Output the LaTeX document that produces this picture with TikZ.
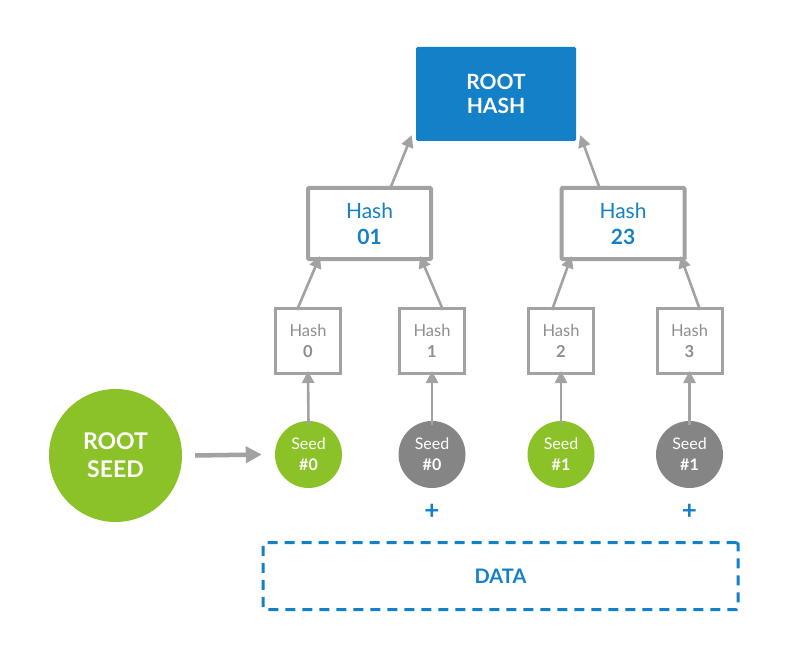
\documentclass[tikz,border=0pt]{standalone}
\usepackage{fontspec}
\setmainfont{Lato}
\usetikzlibrary{arrows.meta}
\definecolor{mblue}{HTML}{1380C8}
\definecolor{mgreen}{HTML}{8BC227}
\definecolor{mgrayc}{HTML}{858585}
\definecolor{mgrayb}{HTML}{A2A2A2}
\definecolor{mgrayt}{HTML}{8E8E8E}
\tikzset{
  rootbox/.style={fill=mblue, rounded corners=1.5pt, minimum width=160pt, minimum height=94pt, inner sep=0pt, text=white, font=\fontsize{21}{24}\selectfont\bfseries, align=center},
  midbox/.style={draw=mgrayb, line width=4pt, rounded corners=1pt, minimum width=123pt, minimum height=71pt, inner sep=0pt, text=mblue, align=center, font=\fontsize{21}{26}\selectfont},
  smallbox/.style={draw=mgrayb, line width=3pt, minimum width=65pt, minimum height=65pt, inner sep=0pt, text=mgrayt, align=center, font=\fontsize{16.5}{21}\selectfont},
  seedc/.style={circle, minimum size=67pt, inner sep=0pt, text=white, align=center, font=\fontsize{16}{21}\selectfont},
  arr/.style={draw=mgrayb, line width=2.6pt, -{Triangle[length=12pt,width=12pt]}},
  plus/.style={text=mblue, font=\fontsize{26}{26}\selectfont\bfseries, inner sep=0pt},
}
\begin{document}
\begin{tikzpicture}[x=1pt,y=-1pt]
\useasboundingbox (0,0) rectangle (810,668);
% root hash
\node[rootbox] (root) at (496,94) {ROOT\\HASH};
% mid boxes
\node[midbox] (h01) at (369.5,223.5) {Hash\\\bfseries 01};
\node[midbox] (h23) at (623,223.5) {Hash\\\bfseries 23};
% small boxes
\node[smallbox] (h0) at (308,341) {Hash\\\bfseries 0};
\node[smallbox] (h1) at (432,341) {Hash\\\bfseries 1};
\node[smallbox] (h2) at (561,341) {Hash\\\bfseries 2};
\node[smallbox] (h3) at (689.5,341) {Hash\\\bfseries 3};
% seeds
\node[seedc, fill=mgreen] (s0) at (308.5,454.5) {Seed\\\bfseries\#0};
\node[seedc, fill=mgrayc] (s1) at (432,454.5) {Seed\\\bfseries\#0};
\node[seedc, fill=mgreen] (s2) at (561,454.5) {Seed\\\bfseries\#1};
\node[seedc, fill=mgrayc] (s3) at (689.5,454.5) {Seed\\\bfseries\#1};
% root seed
\node[circle, fill=mgreen, minimum size=133pt, inner sep=0pt, text=white, align=center, font=\fontsize{23}{28}\selectfont\bfseries] (rs) at (115.5,455.5) {ROOT\\SEED};
% plus signs
\node[plus] (p1) at (432,512) {+};
\node[plus] (p2) at (689.5,512) {+};
% data
\node[draw=mblue, line width=3pt, dash pattern=on 10pt off 7pt, rounded corners=1.5pt, minimum width=475pt, minimum height=67pt, inner sep=0pt, text=mblue, font=\fontsize{20}{24}\selectfont\bfseries] (data) at (500.5,576) {DATA};
% arrows
\draw[arr] ([xshift=20.5pt,yshift=-3pt]h01.north) -- ([xshift=-4pt,yshift=6pt]root.south west);
\draw[arr] ([xshift=-23pt,yshift=-3pt]h23.north) -- ([xshift=4pt,yshift=6pt]root.south east);
\draw[arr] ([xshift=-11pt,yshift=-3pt]h0.north) -- ([xshift=14pt,yshift=5pt]h01.south west);
\draw[arr] ([xshift=11pt,yshift=-3pt]h1.north) -- ([xshift=-13pt,yshift=5pt]h01.south east);
\draw[arr] ([xshift=-9pt,yshift=-3pt]h2.north) -- ([xshift=12pt,yshift=5pt]h23.south west);
\draw[arr] ([xshift=10.5pt,yshift=-3pt]h3.north) -- ([xshift=-6pt,yshift=5pt]h23.south east);
\draw[arr] ([yshift=-4pt]s0.north) -- ([yshift=4pt]h0.south);
\draw[arr] ([yshift=-4pt]s1.north) -- ([yshift=4pt]h1.south);
\draw[arr] ([yshift=-4pt]s2.north) -- ([yshift=4pt]h2.south);
\draw[arr] ([yshift=-4pt]s3.north) -- ([yshift=4pt]h3.south);
\draw[draw=mgrayb, line width=4.5pt, -{Triangle[length=16pt,width=16pt]}] ([xshift=13pt]rs.east) -- ([xshift=-13pt]s0.west);
\end{tikzpicture}
\end{document}
